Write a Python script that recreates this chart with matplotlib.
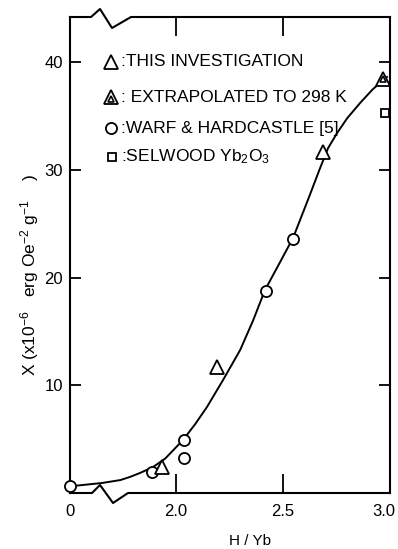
import numpy as np
import matplotlib
matplotlib.use("Agg")
import matplotlib.pyplot as plt
from matplotlib.transforms import ScaledTranslation

# Smooth fitted curve (H/Yb, chi x1e-6)
CURVE_X = [0.0, 0.24, 1.655, 1.74, 1.785, 1.832, 1.893, 1.95, 2.033, 2.09, 2.145,
           2.22, 2.30, 2.36, 2.416, 2.48, 2.547, 2.626, 2.67, 2.71, 2.752, 2.80,
           2.86, 2.92, 2.986]
CURVE_Y = [0.6, 0.65, 0.93, 1.2, 1.49, 1.86, 2.41, 3.2, 4.92, 6.4, 7.99,
           10.49, 13.28, 16.0, 18.85, 21.2, 23.68, 27.7, 30.0, 32.0, 33.4, 34.8,
           36.21, 37.5, 38.63]

# This investigation (open triangles)
THIS_X = [1.935, 2.19, 2.687]
THIS_Y = [2.45, 11.7, 31.66]

# Extrapolated to 298 K
EXTRAP_X = [2.967]
EXTRAP_Y = [38.4]

# Warf & Hardcastle (circles)
WARF_X = [0.0, 1.89, 2.037, 2.037, 2.42, 2.547]
WARF_Y = [0.65, 1.95, 3.25, 4.92, 18.76, 23.58]

# Selwood Yb2O3 (square)
SELWOOD_X = [2.977]
SELWOOD_Y = [35.28]

X_TICKS = [0.0, 2.0, 2.5, 3.0]
X_TICK_LABELS = ["0", "2.0", "2.5", "3.0"]
Y_TICKS = [10, 20, 30, 40]

FONT = ["Liberation Sans", "DejaVu Sans"]

# broken x axis: 0..1.6 squeezed, linear beyond
BREAK_X = 1.6
BREAK_U = 0.095
OFFSET = 1.505


def fwd(x):
    x = np.asarray(x, dtype=float)
    return np.where(x < BREAK_X, x * BREAK_U / BREAK_X, x - OFFSET)


def inv(u):
    u = np.asarray(u, dtype=float)
    return np.where(u < BREAK_U, u * BREAK_X / BREAK_U, u + OFFSET)


def px_to_axes(px, py):
    return (px - 70) / 320, (493 - py) / 476


def main():
    plt.rcParams["font.family"] = FONT
    plt.rcParams["mathtext.default"] = "regular"

    fig = plt.figure(figsize=(3.98, 5.49), dpi=100)
    ax = fig.add_axes([70 / 398, 1 - 493 / 549, 320 / 398, 476 / 549])
    ax.set_xscale("function", functions=(fwd, inv))
    ax.set_xlim(0, 3.0)
    ax.set_ylim(0, 44.2)

    ax.plot(CURVE_X, CURVE_Y, color="black", lw=1.4, zorder=2)
    mk = dict(ls="none", mfc="white", mec="black", mew=1.3, zorder=3, clip_on=False)
    ax.plot(WARF_X, WARF_Y, marker="o", ms=8, **mk)
    ax.plot(THIS_X, THIS_Y, marker="^", ms=10, **mk)
    ax.plot(EXTRAP_X, EXTRAP_Y, marker="^", ms=10, **mk)
    ax.plot(EXTRAP_X, EXTRAP_Y, marker="^", ms=4.5, ls="none", mfc="white",
            mec="black", mew=1.2, zorder=4, clip_on=False)
    ax.plot(SELWOOD_X, SELWOOD_Y, marker="s", ms=5.5, **mk)

    # spines: top/bottom drawn by hand with the break zigzag
    for side in ("top", "bottom"):
        ax.spines[side].set_visible(False)
    for side in ("left", "right"):
        ax.spines[side].set_linewidth(1.5)
    top = [(70, 17), (91, 17), (100, 9), (112, 28), (131, 17), (390, 17)]
    bot = [(70, 493), (92, 493), (100, 485), (113, 503), (128, 493), (390, 493)]
    for pts in (top, bot):
        xs, ys = zip(*[px_to_axes(p, q) for p, q in pts])
        ax.plot(xs, ys, color="black", lw=1.5, transform=ax.transAxes, clip_on=False)

    ax.set_xticks(X_TICKS)
    ax.set_xticklabels(X_TICK_LABELS)
    ax.xaxis.set_minor_locator(matplotlib.ticker.NullLocator())
    ax.set_yticks(Y_TICKS)
    ax.tick_params(axis="x", direction="in", length=14, width=1.3, top=True,
                   labelsize=12, pad=8)
    ax.tick_params(axis="y", direction="in", length=8, width=1.3, right=True,
                   labelsize=12, pad=5)
    last = ax.xaxis.get_majorticklabels()[-1]
    last.set_transform(last.get_transform()
                       + ScaledTranslation(-6 / 100, 0, fig.dpi_scale_trans))

    # legend block
    entries = [
        ((111, 62), "^", ":THIS INVESTIGATION"),
        ((111, 97), "^^", ": EXTRAPOLATED TO 298 K"),
        ((111, 128), "o", ":WARF & HARDCASTLE [5]"),
        ((112, 157), "s", ":SELWOOD Yb$_2$O$_3$"),
    ]
    for (px, py), m, label in entries:
        xa, ya = px_to_axes(px, py)
        if m == "^^":
            ax.plot([xa], [ya], marker="^", ms=10, ls="none", mfc="white", mec="black",
                    mew=1.3, transform=ax.transAxes)
            ax.plot([xa], [ya - 0.004], marker="^", ms=4.5, ls="none", mfc="white",
                    mec="black", mew=1.2, transform=ax.transAxes)
        else:
            size = {"^": 10, "o": 8, "s": 5.5}[m]
            ax.plot([xa], [ya], marker=m, ms=size, ls="none", mfc="white", mec="black",
                    mew=1.3, transform=ax.transAxes)
        tx, _ = px_to_axes(121, py)
        ax.text(tx, ya, label, transform=ax.transAxes, ha="left", va="center",
                fontsize=12.5)

    fig.text(250 / 398, 1 - 541 / 549, "H / Yb", ha="center", va="center", fontsize=11)
    fig.text(30 / 398, 1 - 275 / 549,
             "X (x10$^{-6}$   erg Oe$^{-2}$ g$^{-1}$    )",
             rotation=90, ha="center", va="center", fontsize=12.5)

    fig.savefig("out.png", dpi=100)
    plt.close(fig)


if __name__ == "__main__":
    main()
